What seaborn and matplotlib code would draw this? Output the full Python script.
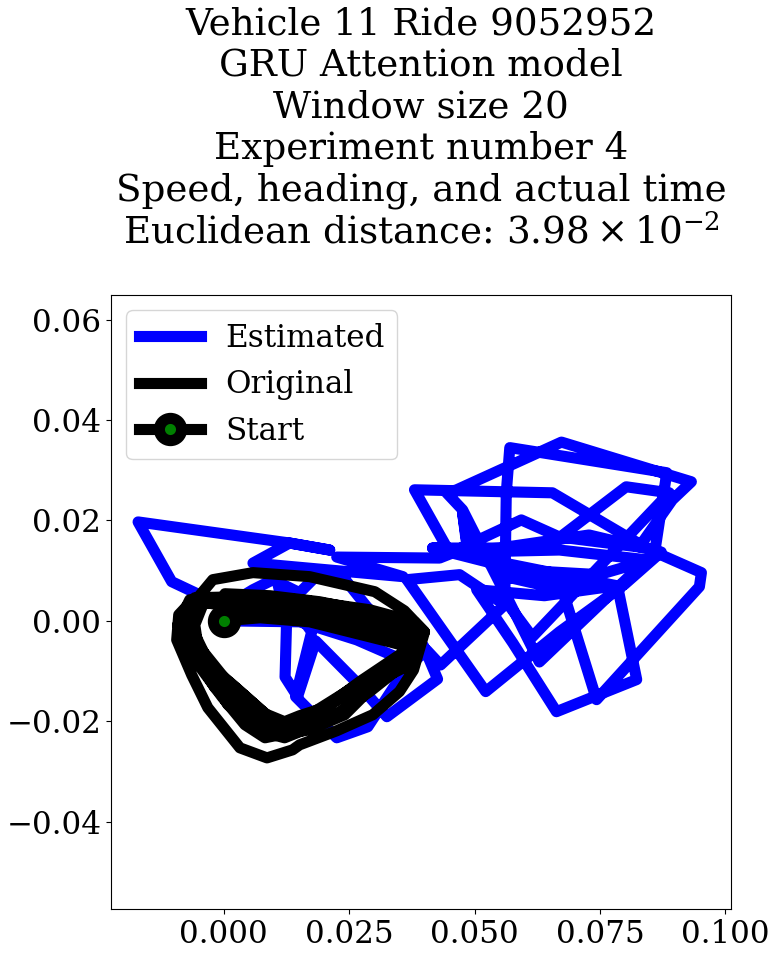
import matplotlib
matplotlib.use("Agg")
import matplotlib.pyplot as plt
import seaborn as sns

# digitised trajectories, x/y in data units
estimated_x = [0, .0151, .0265, .0357, .0398, .0426, .0325, .0267, .0183, .0147, .0122, .0125, .0108, .0175,
               .0143, .0225, .0287, .0361, .0404, .0432, .0560, .0470, .0365, .0522, .0669, .0793, .0574, .0416,
               .0444, .0380, .0655, .0815, .0859, .0629, .0570, .0476, .0444, .0464, .0673, .0932, .0894, .0828,
               .0669, .0593, .0464, .0609, .0655, .0802, .0888, .0615, .0560, .0563, .0570, .0883, .0859, .0952,
               .0948, .0743, .0675, .0570, .0785, .0823, .0663, .0576, .0504, .0639, .0798, .0872, .0728, .0549,
               .0416, .0589, .0748, .0848, .0669, .0486, .0476, .0486, .0430, .0225, .0357, .0058, .0131,
               .0211, .0131, -.0171, -.0104, .0002, .0058, .0098, .0151, .0191, .0237, .0285, .0350]
estimated_y = [0, -.0002, -.0038, -.0078, -.0050, -.0116, -.0191, -.0125, -.0040, -.0151, -.0112, -.0002, .0072, -.0022,
               -.0151, -.0233, -.0211, -.0098, -.0058, -.0088, .0032, .0092, .0082, -.0141, -.0022, .0068, .0112, .0145,
               .0147, .0261, .0255, .0161, .0137, -.0082, .0036, .0221, .0255, .0261, .0356, .0277, .0241, .0147,
               .0167, .0201, .0141, .0147, .0155, .0267, .0255, -.0032, .0042, .0255, .0345, .0295, .0137, .0096,
               .0068, -.0157, .0062, .0086, .0068, -.0117, -.0181, -.0044, .0062, .0050, .0072, .0137, .0171, .0145,
               .0145, .0101, .0092, .0121, .0141, .0137, .0215, .0147, .0125, .0127, .0088, .0115, .0155,
               .0141, .0155, .0197, .0078, .0028, .0062, .0082, .0056, .0096, .0088, .0028, -.0038]

original_x = [0, .0072, .0171, .0251, .0331, .0376, .0331, .0251, .0171, .0111, .0076, .0022, -.0038, -.0068,
              -.0082, -.0064, -.0018, .0072, .0191, .0311, .0386, .0360, .0291, .0211, .0131, .0082, .0042, -.0004,
              -.0058, -.0086, -.0078, -.0052, -.0022, .0058, .0171, .0301, .0360, .0400, .0378, .0350, .0297, .0225,
              .0151, .0137, .0086, .0032, -.0032, -.0064, -.0094, -.0090, -.0058, .0032, .0151, .0291, .0380, .0400,
              .0350, .0271, .0201, .0151, .0121, .0082, .0022, -.0028, -.0062, -.0068, -.0028, .0052,
              .0002, .0092, .0191, .0291, .0350, .0386, .0350, .0291, .0231, .0181, .0151, .0121, .0092, .0042, .0002,
              -.0052, -.0058, -.0038, .0032, .0111, .0191, .0271, .0350, .0380, .0350, .0291, .0231, .0171, .0121,
              .0076, .0032, -.0018, -.0058, -.0078, -.0064, .0012, .0111, .0211, .0311, .0390, .0370, .0311, .0241,
              .0171, .0111, .0062, .0008, -.0022, -.0072, -.0092, -.0068, 0]
original_y = [0, .0006, -.0002, -.0022, -.0042, -.0054, -.0088, -.0137, -.0187, -.0213, -.0201, -.0147, -.0094, -.0038,
              .0002, .0030, .0038, .0034, .0022, .0006, -.0022, -.0068, -.0117, -.0167, -.0223, -.0233, -.0207, -.0151,
              -.0078, -.0018, .0022, .0046, .0082, .0096, .0088, .0058, .0020, -.0022, -.0098, -.0141, -.0187, -.0219,
              -.0247, -.0257, -.0273, -.0253, -.0173, -.0108, -.0038, .0012, .0046, .0048, .0042, .0022, -.0002, -.0022,
              -.0068, -.0121, -.0173, -.0189, -.0201, -.0185, -.0131, -.0088, -.0018, .0018, .0042, .0030,
              .0054, .0050, .0038, .0018, -.0002, -.0026, -.0074, -.0113, -.0153, -.0185, -.0197, -.0205, -.0193, -.0149,
              -.0115, -.0048, -.0008, .0042, .0018, .0012, .0002, -.0014, -.0038, -.0058, -.0094, -.0141, -.0181, -.0213,
              -.0233, -.0221, -.0181, -.0133, -.0068, -.0008, .0036, .0042, .0034, .0018, -.0008, -.0038, -.0088, -.0117,
              -.0187, -.0217, -.0227, -.0213, -.0167, -.0117, -.0058, -.0008, .0042, .0030]

start_x = [0]
start_y = [0]

title = ("Vehicle 11 Ride 9052952\nGRU Attention model\nWindow size 20\nExperiment number 4\n"
         "Speed, heading, and actual time\nEuclidean distance: $3.98\\times 10^{-2}$")

plt.rcParams["font.family"] = "DejaVu Serif"
plt.rcParams["mathtext.fontset"] = "dejavuserif"
plt.rcParams["font.size"] = 22

fig = plt.figure(figsize=(7.81, 9.57), dpi=100)
ax = fig.add_axes([111 / 781, 1 - 909 / 957, 620 / 781, 614 / 957])

sns.lineplot(x=estimated_x, y=estimated_y, sort=False, estimator=None, color="blue", linewidth=8, alpha=1, ax=ax, label="Estimated")
sns.lineplot(x=original_x, y=original_y, sort=False, estimator=None, color="black", linewidth=8, alpha=1, ax=ax, label="Original")
sns.lineplot(x=start_x, y=start_y, sort=False, estimator=None, color="black", linewidth=8, alpha=1, marker="o", markersize=16,
             markerfacecolor="green", markeredgecolor="black", markeredgewidth=8, ax=ax, label="Start")

ax.set_xlim(-0.0225, 0.1011)
ax.set_ylim(-0.0574, 0.0649)
ax.set_xticks([0, 0.025, 0.05, 0.075, 0.1])
ax.set_yticks([-0.04, -0.02, 0, 0.02, 0.04, 0.06])
ax.set_xticklabels(["0.000", "0.025", "0.050", "0.075", "0.100"])
ax.tick_params(labelsize=22.3)
ax.legend(loc="upper left", fontsize=22.3)
ax.set_title(title, fontsize=26.8, pad=37)

fig.savefig("out.png", dpi=100)
